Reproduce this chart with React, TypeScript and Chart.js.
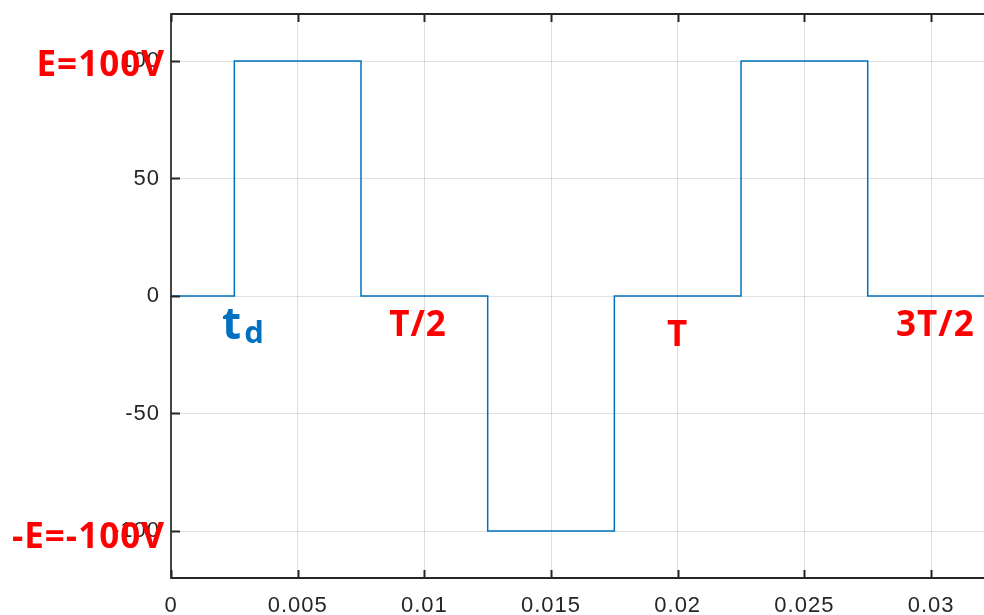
import React, { useEffect, useRef } from "react";
import { Chart, registerables } from "chart.js";

Chart.register(...registerables);

// ---- data ----
const timeS = [0, 0.0025, 0.0075, 0.0125, 0.0175, 0.0225, 0.0275, 0.03209];
const voltage = [0, 100, 0, -100, 0, 100, 0, 0];
const xTicks = [0, 0.005, 0.01, 0.015, 0.02, 0.025, 0.03];
const xTickLabels = ["0", "0.005", "0.01", "0.015", "0.02", "0.025", "0.03"];
const yTicks = [-100, -50, 0, 50, 100];
const yTickLabels = ["-100", "-50", "0", "50", "100"];

// annotation texts anchored at data coordinates
const annoText = ["E=100V", "-E=-100V", "T/2", "T", "3T/2"];
const annoX = [-0.00024, -0.00024, 0.00975, 0.02, 0.03017];
const annoY = [93.8, -107.4, -17, -21.2, -17];
const annoAlign: CanvasTextAlign[] = ["right", "right", "center", "center", "center"];
const tdX = [0.00201, 0.00289];
const tdY = [-18.3, -20];

const spacingPlugin = {
  id: "spacing",
  beforeDraw(chart: any) {
    chart.ctx.letterSpacing = "1px";
  },
  beforeDatasetsDraw(chart: any) {
    chart.ctx.letterSpacing = "0px";
  },
};

const decorPlugin = {
  id: "decor",
  afterDraw(chart: any) {
    const { ctx, chartArea, scales } = chart;
    const xs = scales.x;
    const ys = scales.y;
    ctx.save();
    ctx.letterSpacing = "0px";
    // borders
    ctx.strokeStyle = "#262626";
    ctx.lineWidth = 2;
    ctx.beginPath();
    ctx.moveTo(chartArea.left, chartArea.top);
    ctx.lineTo(chartArea.right, chartArea.top);
    ctx.moveTo(chartArea.left, chartArea.bottom);
    ctx.lineTo(chartArea.right, chartArea.bottom);
    ctx.stroke();
    ctx.strokeStyle = "#444444";
    ctx.beginPath();
    ctx.moveTo(chartArea.left, chartArea.top - 1);
    ctx.lineTo(chartArea.left, chartArea.bottom + 1);
    ctx.stroke();
    // inward ticks
    ctx.strokeStyle = "#262626";
    ctx.beginPath();
    xTicks.forEach((v) => {
      const px = Math.round(xs.getPixelForValue(v)) + 0.5;
      ctx.moveTo(px, chartArea.bottom);
      ctx.lineTo(px, chartArea.bottom - 8);
      ctx.moveTo(px, chartArea.top);
      ctx.lineTo(px, chartArea.top + 8);
    });
    yTicks.forEach((v) => {
      const py = Math.round(ys.getPixelForValue(v)) + 0.5;
      ctx.moveTo(chartArea.left, py);
      ctx.lineTo(chartArea.left + 9, py);
    });
    ctx.stroke();

    // annotations
    ctx.textBaseline = "alphabetic";
    ctx.fillStyle = "#ff0000";
    ctx.font = "bold 35px 'Open Sans', sans-serif";
    ctx.letterSpacing = "1px";
    annoText.forEach((t, i) => {
      ctx.textAlign = annoAlign[i];
      ctx.fillText(t, xs.getPixelForValue(annoX[i]), ys.getPixelForValue(annoY[i]));
    });
    ctx.letterSpacing = "0px";
    ctx.fillStyle = "#0070C0";
    ctx.textAlign = "left";
    ctx.font = "bold 44px 'Open Sans', sans-serif";
    ctx.fillText("t", xs.getPixelForValue(tdX[0]), ys.getPixelForValue(tdY[0]));
    ctx.font = "bold 31px 'Open Sans', sans-serif";
    ctx.fillText("d", xs.getPixelForValue(tdX[1]), ys.getPixelForValue(tdY[1]));
    ctx.restore();
  },
};

export default function App() {
  const ref = useRef<HTMLCanvasElement | null>(null);
  useEffect(() => {
    if (!ref.current) return;
    const chart = new Chart(ref.current, {
      type: "line",
      data: {
        datasets: [
          {
            data: timeS.map((t, i) => ({ x: t, y: voltage[i] })),
            borderColor: "#0072BD",
            borderWidth: 1.5,
            pointRadius: 0,
            stepped: true,
            fill: false,
          },
        ],
      },
      options: {
        animation: false,
        responsive: false,
        maintainAspectRatio: false,
        layout: { padding: { top: 14, left: 0, right: 0, bottom: 0 } },
        plugins: { legend: { display: false }, tooltip: { enabled: false } },
        scales: {
          x: {
            type: "linear",
            min: 0,
            max: 0.03209,
            afterBuildTicks: (s: any) => {
              s.ticks = xTicks.map((v) => ({ value: v }));
            },
            afterFit: (s: any) => {
              s.height = 37;
              s.paddingLeft = 0;
              s.paddingRight = 0;
            },
            grid: { color: "rgba(0,0,0,0.12)", drawTicks: false, lineWidth: 1 },
            border: { display: false },
            ticks: {
              padding: 15,
              maxRotation: 0,
              autoSkip: false,
              color: "#262626",
              font: { family: "'Liberation Sans', Arial, sans-serif", size: 22 },
              callback: (v: any) => {
                const i = xTicks.findIndex((t) => Math.abs(t - v) < 1e-9);
                return i >= 0 ? xTickLabels[i] : "";
              },
            },
          },
          y: {
            min: -120,
            max: 120,
            afterBuildTicks: (s: any) => {
              s.ticks = yTicks.map((v) => ({ value: v }));
            },
            afterFit: (s: any) => {
              s.width = 171;
              s.paddingTop = 0;
              s.paddingBottom = 0;
            },
            grid: { color: "rgba(0,0,0,0.12)", drawTicks: false, lineWidth: 1 },
            border: { display: false },
            ticks: {
              padding: 11,
              autoSkip: false,
              color: "#262626",
              font: { family: "'Liberation Sans', Arial, sans-serif", size: 22 },
              callback: (v: any) => {
                const i = yTicks.indexOf(v);
                return i >= 0 ? yTickLabels[i] : "";
              },
            },
          },
        },
      },
      plugins: [spacingPlugin, decorPlugin],
    });
    return () => chart.destroy();
  }, []);
  return (
    <div style={{ position: "fixed", left: 0, top: 0, width: 984, height: 615, background: "#fff" }}>
      <canvas ref={ref} width={984} height={615} style={{ display: "block" }} />
    </div>
  );
}
